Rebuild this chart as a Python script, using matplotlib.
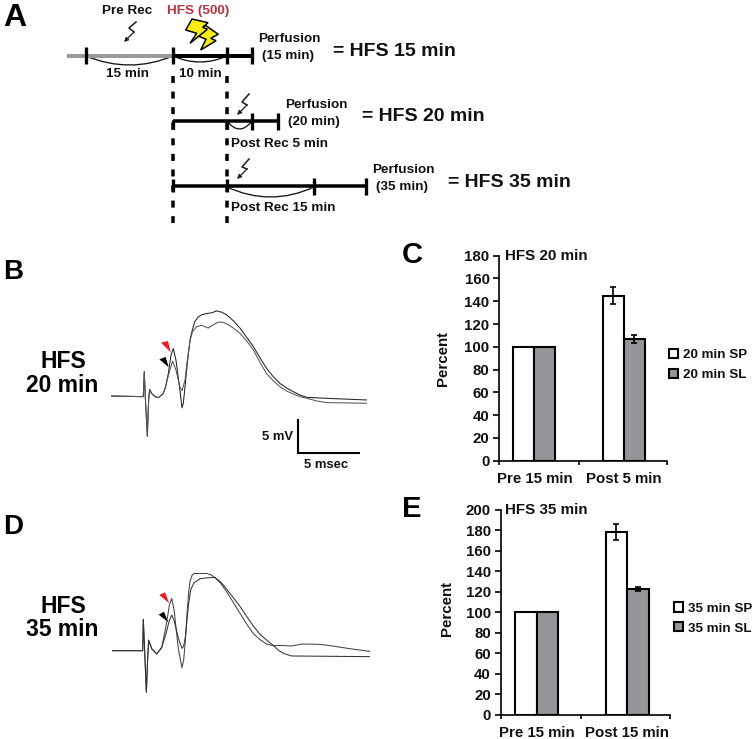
import matplotlib
matplotlib.use("Agg")
import matplotlib.pyplot as plt
from matplotlib.patches import Polygon, PathPatch
from matplotlib.path import Path

plt.rcParams['font.family'] = ['Liberation Sans', 'DejaVu Sans']
plt.rcParams['font.weight'] = 'bold'

W, H = 755, 739
DPI = 100
PX = 72 / DPI

# ---------- bar data ----------
cats_c = ['Pre 15 min', 'Post 5 min']
sp_c = [100, 145]
sl_c = [100, 107]
sp_err_c = [0, 7.5]
sl_err_c = [0, 3.5]
ticks_c = [0, 20, 40, 60, 80, 100, 120, 140, 160, 180]

cats_e = ['Pre 15 min', 'Post 15 min']
sp_e = [100, 178]
sl_e = [100, 123]
sp_err_e = [0, 8]
sl_err_e = [0, 2]
ticks_e = [0, 20, 40, 60, 80, 100, 120, 140, 160, 180, 200]

# ---------- field potential traces (ms, mV) ----------
t_b_hi = [-2.6, 0, 0.08, 0.16, 0.33, 0.44, 0.52, 0.68, 0.96, 1.23, 1.5, 1.64, 1.83, 2.05, 2.27, 2.46, 2.68, 3.0, 3.17,
          3.28, 3.42, 3.61, 3.83, 4.02, 4.23, 4.51, 4.78, 5.19, 5.6, 6.01, 6.42, 6.83, 7.38, 7.92, 8.47, 9.02, 9.56,
          10.1, 10.66, 11.2, 11.75, 12.3, 12.84, 13.4, 15.0, 18.3]
v_b_hi = [0, -0.1, 3.7, 0, -6.1, -0.5, 1.0, 0.4, -0.1, -0.25, 0.15, 0.4, 1.4, 3.4, 6.2, 7.2, 5.4, 0.9, -1.8,
          -1.1, 1.4, 4.95, 8.5, 10.0, 11.3, 12.0, 12.3, 12.5, 12.6, 12.9, 12.7, 12.3, 11.4, 10.3, 8.9, 7.5, 5.8,
          4.2, 2.9, 1.9, 1.2, 0.65, 0.15, -0.2, -0.35, -0.6]
t_b_lo = [-2.6, 0, 0.08, 0.16, 0.33, 0.44, 0.52, 0.68, 0.96, 1.23, 1.5, 1.64, 1.83, 2.05, 2.4, 2.68, 3.0, 3.17,
          3.42, 3.61, 3.83, 4.02, 4.37, 4.78, 5.33, 5.74, 6.15, 6.56, 6.97, 7.38, 7.92, 8.47, 9.02, 9.56,
          10.1, 10.66, 11.2, 11.75, 12.3, 12.84, 13.4, 14.2, 15.0, 18.3]
v_b_lo = [0, -0.1, 3.7, 0, -6.1, -0.5, 1.0, 0.4, -0.1, -0.25, 0.15, 0.4, 1.4, 3.1, 5.3, 3.9, 1.4, 0.8,
          2.4, 5.5, 8.4, 9.7, 10.5, 10.7, 10.3, 10.8, 11.2, 11.15, 10.8, 10.3, 9.5, 8.35, 7.0, 5.1,
          3.4, 2.3, 1.4, 0.75, 0.3, -0.1, -0.35, -0.75, -1.0, -1.1]

t_d_hi = [-2.46, 0, 0.05, 0.16, 0.3, 0.41, 0.49, 0.74, 1.15, 1.56, 1.91, 2.19, 2.38, 2.57, 2.92, 3.22,
          3.36, 3.5, 3.64, 3.77, 3.88, 4.04, 4.2, 5.25, 5.6, 5.93, 6.4, 6.89, 7.4, 7.98, 8.5, 9.07, 9.6,
          10.16, 10.71, 11.5, 12.2, 13.0, 13.7, 14.6, 15.6, 17.0, 18.6]
v_d_hi = [0, 0, 4.75, 0, -6.3, -1, 1.6, 0.3, -0.5, 0.5, 3.7, 6.9, 7.9, 6.2, 0.3, -2.6,
          -1.4, 1.6, 5.7, 8.9, 10.5, 11.4, 11.7, 11.7, 11.5, 11.05, 10.2, 8.9, 7.4, 5.65, 4.1, 2.6, 1.7,
          1.0, 0.75, 0.8, 0.7, 1.0, 1.0, 0.95, 0.7, 0.3, -0.1]
t_d_lo = [-2.46, 0, 0.05, 0.16, 0.3, 0.41, 0.49, 0.74, 1.15, 1.56, 1.91, 2.19, 2.38, 2.57, 2.92, 3.22,
          3.36, 3.5, 3.64, 3.77, 3.93, 4.2, 4.7, 5.3, 5.93, 6.4, 6.89, 7.4, 7.98, 8.5, 9.07, 9.6,
          10.16, 10.71, 11.1, 11.53, 12.2, 18.6]
v_d_lo = [0, 0, 4.75, 0, -6.3, -1, 1.6, 0.3, -0.5, 0.5, 2.6, 4.6, 5.4, 4.6, 1.9, 0.35,
          0.7, 2.1, 4.9, 7.2, 9.2, 10.3, 10.9, 11.05, 11.1, 10.4, 9.3, 8.1, 6.7, 5.25, 3.75, 2.5,
          1.6, 0.8, 0.1, -0.4, -0.8, -0.9]

fig = plt.figure(figsize=(W / DPI, H / DPI), dpi=DPI, facecolor='white')


def ax_px(x0, y0, x1, y1, **kw):
    return fig.add_axes([x0 / W, 1 - y1 / H, (x1 - x0) / W, (y1 - y0) / H], **kw)


# ---------- overlay in pixel coordinates ----------
ov = ax_px(0, 0, W, H)
ov.set_xlim(0, W)
ov.set_ylim(H, 0)
ov.axis('off')


def T(x, y, s, size=9.7, ha='center', color='#111111'):
    ov.text(x, y + size * 0.14, s, fontsize=size, ha=ha, va='center', color=color, fontweight='bold')


for s, x, y, fs in [('A', 3, 15, 23), ('B', 3, 269, 20), ('C', 402, 252, 21), ('D', 3, 524, 20), ('E', 402, 506, 21)]:
    T(x, y, s, size=fs, ha='left', color='black')


def hline(x0, x1, y, color='black', lw=4):
    ov.plot([x0, x1], [y, y], color=color, lw=lw * PX, solid_capstyle='butt')


def vtick(x, y0, y1, lw=3.3):
    ov.plot([x, x], [y0, y1], color='black', lw=lw * PX, solid_capstyle='butt')


def arc(x0, x1, y, depth):
    p = Path([(x0, y), ((x0 + x1) / 2, y + 2 * depth), (x1, y)], [Path.MOVETO, Path.CURVE3, Path.CURVE3])
    ov.add_patch(PathPatch(p, fc='none', ec='#111111', lw=1.3 * PX))


def spark(pts):
    xs, ys = zip(*pts[:-1])
    ov.plot(xs, ys, color='#222222', lw=1.6 * PX)
    ov.annotate('', xy=pts[-1], xytext=pts[-2],
                arrowprops=dict(arrowstyle='-|>', lw=1.3 * PX, color='#222222', mutation_scale=6,
                                shrinkA=0, shrinkB=0))


hline(67, 173, 56, color='#999999', lw=4)
hline(173, 252, 56)
for x in (86, 173, 227, 252):
    vtick(x, 47, 64)
arc(86, 173, 56, 9)
arc(173, 227, 56, 6)

hline(173, 278, 120.7, lw=3.5)
for x in (252, 278):
    vtick(x, 112.5, 130)
vtick(173, 120, 129)
vtick(227, 120, 129)
arc(227, 252, 121, 8)

hline(173, 366, 186, lw=3.5)
for x in (314, 366):
    vtick(x, 178, 195)
vtick(173, 179, 192)
vtick(227, 179, 192)
arc(227, 314, 187, 10)

for x in (173, 227):
    ov.plot([x, x], [76, 223], color='black', lw=3.5 * PX, linestyle=(0, (2.0, 2.45)), dash_capstyle='butt')

spark([(136, 22), (129, 28), (134, 32), (124, 42)])
spark([(249, 94), (242, 102), (247, 105), (237, 115)])
spark([(249, 159), (242, 167), (247, 169), (237, 179)])

for poly in ([(205, 25), (218.3, 34.3), (210.7, 38.3), (216, 40.7), (200.7, 50), (206, 39.3), (198.3, 36)],
             [(192, 19), (208, 22.7), (202.7, 27.3), (207.3, 29.3), (190, 43.3), (196.7, 33.3), (185.7, 30)]):
    ov.add_patch(Polygon(poly, closed=True, fc='#f7ec13', ec='black', lw=1.5 * PX, joinstyle='miter'))

T(127, 9.5, 'Pre Rec')
T(198.5, 9.5, 'HFS (500)', color='#b5323e')
T(127, 73, '15 min')
T(200, 73, '10 min')
T(289, 38, 'Perfusion')
T(288, 55, '(15 min)')
T(316, 104, 'Perfusion')
T(314, 121, '(20 min)')
T(403, 169, 'Perfusion')
T(402, 186, '(35 min)')
T(231, 143, 'Post Rec 5 min', ha='left')
T(231, 207, 'Post Rec 15 min', ha='left')
T(333, 50, '= HFS 15 min', size=14, ha='left')
T(362, 115, '= HFS 20 min', size=14, ha='left')
T(448, 180.5, '= HFS 35 min', size=14, ha='left')
T(63, 359.5, 'HFS', size=16.5, color='black')
T(62.5, 383.5, '20 min', size=16.5, color='black')
T(63, 604.5, 'HFS', size=16.5, color='black')
T(62.5, 627.5, '35 min', size=16.5, color='black')

# arrowheads on the traces
ov.add_patch(Polygon([(161, 342.7), (168, 341), (170.7, 352.3)], fc='#ee1c25', ec='none'))
ov.add_patch(Polygon([(159.3, 359.3), (165.7, 357), (168.7, 367.3)], fc='black', ec='none'))
ov.add_patch(Polygon([(159.3, 595), (165, 592.3), (169.3, 603.3)], fc='#ee1c25', ec='none'))
ov.add_patch(Polygon([(158.7, 614.7), (164, 611.7), (168.3, 622.3)], fc='black', ec='none'))

# ---------- traces ----------
PX_MS, PX_MV = 12.2, 6.6


def trace_ax(x0, y0, x1, y1, t0_px, v0_px):
    a = ax_px(x0, y0, x1, y1)
    a.set_xlim((x0 - t0_px) / PX_MS, (x1 - t0_px) / PX_MS)
    a.set_ylim((v0_px - y1) / PX_MV, (v0_px - y0) / PX_MV)
    a.axis('off')
    a.patch.set_alpha(0)
    return a


tb = trace_ax(100, 290, 380, 480, 143.3, 396)
tb.plot(t_b_hi, v_b_hi, color='#222222', lw=0.75)
tb.plot(t_b_lo, v_b_lo, color='#555555', lw=0.75)
tb.plot([12.7, 12.7, 17.7], [-3.6, -8.6, -8.6], color='black', lw=1.5, solid_joinstyle='miter')
T(292.7, 436, '5 mV', size=9.4, ha='right')
T(326, 464, '5 msec', size=9.4)

td = trace_ax(100, 540, 380, 700, 142.7, 650.7)
td.plot(t_d_hi, v_d_hi, color='#444444', lw=0.75)
td.plot(t_d_lo, v_d_lo, color='#333333', lw=0.75)


# ---------- bars ----------
def bars(box, xlim, midtick, width, ymax, ticks, cats, sp, sl, se, sl_e_, names, title_xy, ylab_xy, leg_xy, leg_pitch):
    a = ax_px(*box)
    a.patch.set_alpha(0)
    x = list(range(len(cats)))
    b1 = a.bar([i - width / 2 for i in x], sp, width, color='white', edgecolor='black', linewidth=1.5,
               label=names[0], zorder=2)
    b2 = a.bar([i + width / 2 for i in x], sl, width, color='#939598', edgecolor='black', linewidth=1.5,
               label=names[1], zorder=2)
    a.errorbar([i - width / 2 for i in x][1:], sp[1:], yerr=se[1:], fmt='none', ecolor='black', elinewidth=1.2,
               capsize=2.3, capthick=1.2, zorder=3)
    a.errorbar([i + width / 2 for i in x][1:], sl[1:], yerr=sl_e_[1:], fmt='none', ecolor='black', elinewidth=1.2,
               capsize=2.3, capthick=1.2, zorder=3)
    a.set_xlim(*xlim)
    a.set_ylim(0, ymax)
    a.set_yticks(ticks)
    a.set_xticks([xlim[0], midtick, xlim[1]])
    a.set_xticklabels([])
    a.set_xticks(x, cats, minor=True)
    a.tick_params(axis='x', which='minor', length=0, labelsize=10.8, pad=8, labelcolor='#111111')
    a.tick_params(axis='x', which='major', length=3, width=1.2)
    a.tick_params(axis='y', length=4, width=1.2, labelsize=10.8, pad=3, labelcolor='#111111')
    for s in ('top', 'right'):
        a.spines[s].set_visible(False)
    for s in ('left', 'bottom'):
        a.spines[s].set_linewidth(1.2)
    a.spines['bottom'].set_zorder(4)
    T(title_xy[0], title_xy[1], names[2], size=10.9, ha='left')
    ov.text(*ylab_xy, 'Percent', fontsize=10.8, rotation=90, ha='center', va='center', color='#111111')
    fs = 9.6
    em = fs / PX
    a.legend(handles=[b1, b2], loc='center left', bbox_to_anchor=(leg_xy[0] / W, 1 - leg_xy[1] / H),
             bbox_transform=fig.transFigure, frameon=False, fontsize=fs, borderpad=0, borderaxespad=0,
             handlelength=9 / em, handleheight=9 / em, handletextpad=5.5 / em,
             labelspacing=(leg_pitch - em * 0.8) / em, labelcolor='#111111')
    return a


bars((499.3, 255.7, 666.7, 460.7), (-0.392, 1.481), 0.504, 0.235, 180, ticks_c, cats_c, sp_c, sl_c,
     sp_err_c, sl_err_c, ('20 min SP', '20 min SL', 'HFS 20 min'), (504.7, 254.5), (443, 358), (668.5, 365), 18.7)
bars((500.7, 509.7, 670, 714.7), (-0.397, 1.471), 0.489, 0.24, 200, ticks_e, cats_e, sp_e, sl_e,
     sp_err_e, sl_err_e, ('35 min SP', '35 min SL', 'HFS 35 min'), (504.7, 508.5), (447, 608.7), (674, 618.5), 18.3)

fig.savefig('out.png', dpi=DPI, facecolor='white')
